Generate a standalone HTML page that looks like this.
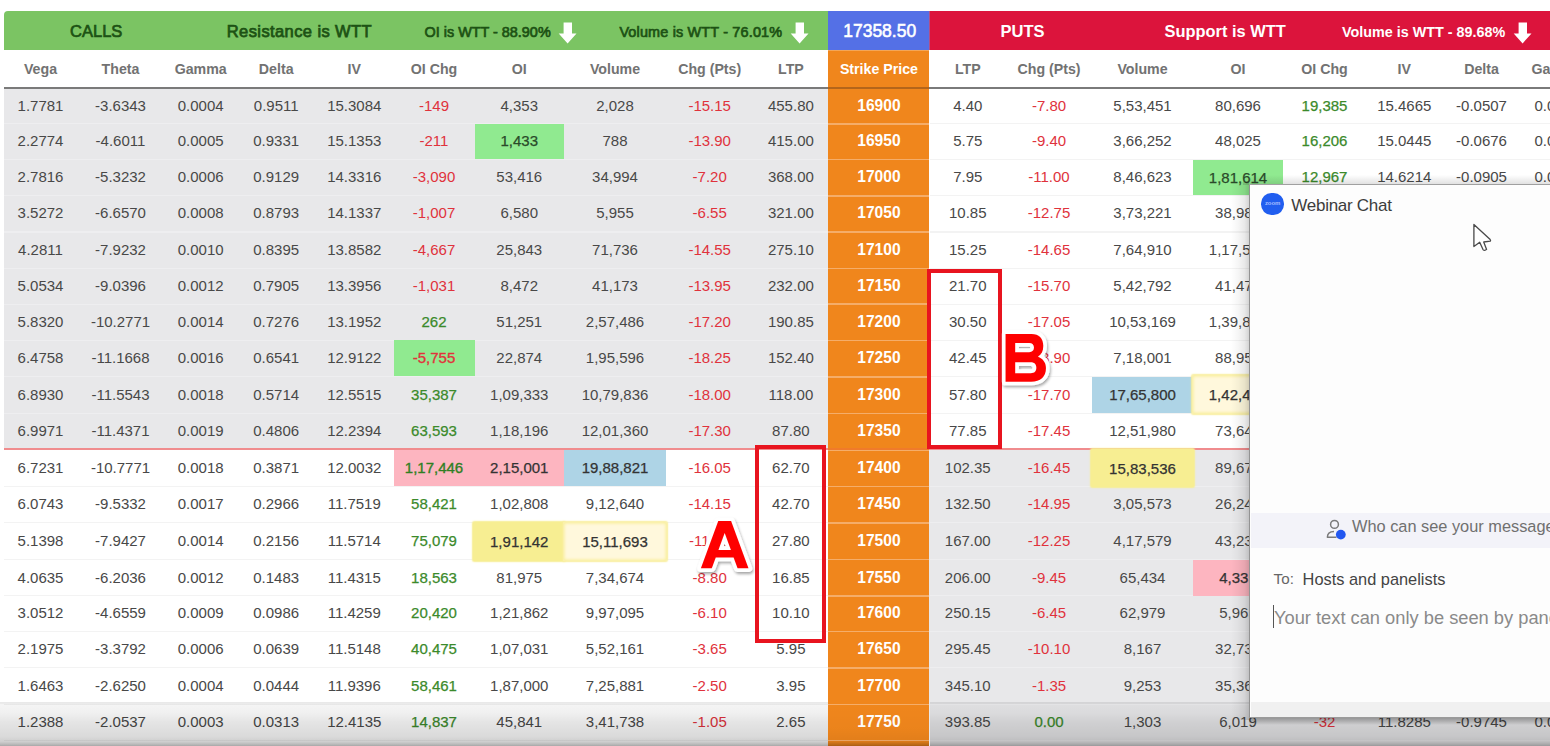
<!DOCTYPE html>
<html><head><meta charset="utf-8"><title>Option Chain</title>
<style>
html,body{margin:0;padding:0;}
body{width:1550px;height:746px;overflow:hidden;background:#fff;position:relative;font-family:"Liberation Sans",sans-serif;}
.abs{position:absolute;}
.c{position:absolute;text-align:center;white-space:nowrap;font-size:15px;color:#484848;line-height:34px;height:34px;}
.neg{color:#e0323c;}
.pos{color:#3b8a2b;-webkit-text-stroke:0.25px #3b8a2b;}
.hdr{position:absolute;text-align:center;white-space:nowrap;font-size:14.2px;font-weight:bold;color:#727272;line-height:38px;height:38px;top:49.5px;}
.sk{color:#fff;font-weight:bold;font-size:15.6px;}
.hg{background:#90ea90;color:#2a4a2a;-webkit-text-stroke:0.25px #2a4a2a;}
.hp{background:#fdb5c0;color:#333;-webkit-text-stroke:0.25px #333;}
.hb{background:#aed4e6;color:#333;-webkit-text-stroke:0.25px #333;}
.hy{border-radius:2px;box-shadow:0 0 1.5px 0.3px #f7ee92;background:#f7ee92;color:#333;-webkit-text-stroke:0.25px #333;}
.hly{border-radius:2px;background:#fff8dc;color:#333;-webkit-text-stroke:0.25px #333;box-shadow:inset 0 0 3px 1.5px #f9ee9c, 0 0 1.5px 0.3px #f9ee9c;}
.t{position:absolute;white-space:nowrap;}
</style></head><body>

<div class="abs" style="left:4px;top:88px;width:825px;height:361.95px;background:#e8e8ea;"></div>
<div class="abs" style="left:929px;top:449.95px;width:621px;height:320px;background:#e8e8ea;"></div>
<div class="abs" style="left:4px;top:123.25px;width:824.4px;height:1.2px;background:#eeeef0;"></div>
<div class="abs" style="left:929.5px;top:123.25px;width:620.5px;height:1.2px;background:#f3f3f3;"></div>
<div class="abs" style="left:4px;top:159.00px;width:824.4px;height:1.2px;background:#eeeef0;"></div>
<div class="abs" style="left:929.5px;top:159.00px;width:620.5px;height:1.2px;background:#f3f3f3;"></div>
<div class="abs" style="left:4px;top:195.05px;width:824.4px;height:1.2px;background:#eeeef0;"></div>
<div class="abs" style="left:929.5px;top:195.05px;width:620.5px;height:1.2px;background:#f3f3f3;"></div>
<div class="abs" style="left:4px;top:231.35px;width:824.4px;height:1.2px;background:#eeeef0;"></div>
<div class="abs" style="left:929.5px;top:231.35px;width:620.5px;height:1.2px;background:#f3f3f3;"></div>
<div class="abs" style="left:4px;top:267.60px;width:824.4px;height:1.2px;background:#eeeef0;"></div>
<div class="abs" style="left:929.5px;top:267.60px;width:620.5px;height:1.2px;background:#f3f3f3;"></div>
<div class="abs" style="left:4px;top:303.50px;width:824.4px;height:1.2px;background:#eeeef0;"></div>
<div class="abs" style="left:929.5px;top:303.50px;width:620.5px;height:1.2px;background:#f3f3f3;"></div>
<div class="abs" style="left:4px;top:339.60px;width:824.4px;height:1.2px;background:#eeeef0;"></div>
<div class="abs" style="left:929.5px;top:339.60px;width:620.5px;height:1.2px;background:#f3f3f3;"></div>
<div class="abs" style="left:4px;top:376.05px;width:824.4px;height:1.2px;background:#eeeef0;"></div>
<div class="abs" style="left:929.5px;top:376.05px;width:620.5px;height:1.2px;background:#f3f3f3;"></div>
<div class="abs" style="left:4px;top:412.75px;width:824.4px;height:1.2px;background:#eeeef0;"></div>
<div class="abs" style="left:929.5px;top:412.75px;width:620.5px;height:1.2px;background:#f3f3f3;"></div>
<div class="abs" style="left:4px;top:485.75px;width:824.4px;height:1.2px;background:#f3f3f3;"></div>
<div class="abs" style="left:929.5px;top:485.75px;width:620.5px;height:1.2px;background:#eeeef0;"></div>
<div class="abs" style="left:4px;top:522.20px;width:824.4px;height:1.2px;background:#f3f3f3;"></div>
<div class="abs" style="left:929.5px;top:522.20px;width:620.5px;height:1.2px;background:#eeeef0;"></div>
<div class="abs" style="left:4px;top:559.00px;width:824.4px;height:1.2px;background:#f3f3f3;"></div>
<div class="abs" style="left:929.5px;top:559.00px;width:620.5px;height:1.2px;background:#eeeef0;"></div>
<div class="abs" style="left:4px;top:595.30px;width:824.4px;height:1.2px;background:#f3f3f3;"></div>
<div class="abs" style="left:929.5px;top:595.30px;width:620.5px;height:1.2px;background:#eeeef0;"></div>
<div class="abs" style="left:4px;top:631.00px;width:824.4px;height:1.2px;background:#f3f3f3;"></div>
<div class="abs" style="left:929.5px;top:631.00px;width:620.5px;height:1.2px;background:#eeeef0;"></div>
<div class="abs" style="left:4px;top:667.30px;width:824.4px;height:1.2px;background:#f3f3f3;"></div>
<div class="abs" style="left:929.5px;top:667.30px;width:620.5px;height:1.2px;background:#eeeef0;"></div>
<div class="abs" style="left:4px;top:703.80px;width:824.4px;height:1.2px;background:#f3f3f3;"></div>
<div class="abs" style="left:929.5px;top:703.80px;width:620.5px;height:1.2px;background:#eeeef0;"></div>
<div class="abs" style="left:4px;top:740.00px;width:824.4px;height:1.2px;background:#f3f3f3;"></div>
<div class="abs" style="left:929.5px;top:740.00px;width:620.5px;height:1.2px;background:#eeeef0;"></div>
<div class="abs" style="left:4px;top:10.9px;width:824.4px;height:39.5px;background:#7bc463;border-top-left-radius:4px;"></div>
<div class="abs" style="left:828.2px;top:10.7px;width:101.3px;height:39.7px;background:#5470e6;"></div>
<div class="abs" style="left:930px;top:10.7px;width:620px;height:39.7px;background:#dc143c;"></div><div class="abs" style="left:929px;top:10.7px;width:1.2px;height:39.7px;background:#b0508a;"></div>
<div class="abs" style="left:828.4px;top:50.4px;width:101.1px;height:700px;background:#f4a657;"></div><div class="abs" style="left:828.4px;top:51.3px;width:101.1px;height:700px;background:#f0861c;"></div>
<div class="abs" style="left:4px;top:87.4px;width:1546px;height:1.7px;background:#7a7a7a;"></div>
<div class="abs" style="left:828.4px;top:87.4px;width:101.1px;height:1.7px;background:#b4651a;"></div>
<div class="abs" style="left:828.4px;top:123.15px;width:101.1px;height:1.6px;background:#f5ad69;"></div>
<div class="abs" style="left:828.4px;top:158.90px;width:101.1px;height:1.6px;background:#f5ad69;"></div>
<div class="abs" style="left:828.4px;top:194.95px;width:101.1px;height:1.6px;background:#f5ad69;"></div>
<div class="abs" style="left:828.4px;top:231.25px;width:101.1px;height:1.6px;background:#f5ad69;"></div>
<div class="abs" style="left:828.4px;top:267.50px;width:101.1px;height:1.6px;background:#f5ad69;"></div>
<div class="abs" style="left:828.4px;top:303.40px;width:101.1px;height:1.6px;background:#f5ad69;"></div>
<div class="abs" style="left:828.4px;top:339.50px;width:101.1px;height:1.6px;background:#f5ad69;"></div>
<div class="abs" style="left:828.4px;top:375.95px;width:101.1px;height:1.6px;background:#f5ad69;"></div>
<div class="abs" style="left:828.4px;top:412.65px;width:101.1px;height:1.6px;background:#f5ad69;"></div>
<div class="abs" style="left:828.4px;top:449.25px;width:101.1px;height:1.6px;background:#f5ad69;"></div>
<div class="abs" style="left:828.4px;top:485.65px;width:101.1px;height:1.6px;background:#f5ad69;"></div>
<div class="abs" style="left:828.4px;top:522.10px;width:101.1px;height:1.6px;background:#f5ad69;"></div>
<div class="abs" style="left:828.4px;top:558.90px;width:101.1px;height:1.6px;background:#f5ad69;"></div>
<div class="abs" style="left:828.4px;top:595.20px;width:101.1px;height:1.6px;background:#f5ad69;"></div>
<div class="abs" style="left:828.4px;top:630.90px;width:101.1px;height:1.6px;background:#f5ad69;"></div>
<div class="abs" style="left:828.4px;top:667.20px;width:101.1px;height:1.6px;background:#f5ad69;"></div>
<div class="abs" style="left:828.4px;top:703.70px;width:101.1px;height:1.6px;background:#f5ad69;"></div>
<div class="abs" style="left:828.4px;top:739.90px;width:101.1px;height:1.6px;background:#f5ad69;"></div>
<div class="t" style="left:70.1px;top:19px;line-height:24px;font-size:16.5px;color:#1d5214;-webkit-text-stroke:0.7px #1d5214;">CALLS</div>
<div class="t" style="left:226.8px;top:19.2px;line-height:24px;font-size:16.5px;color:#1d5214;-webkit-text-stroke:0.75px #1d5214;letter-spacing:0.4px;">Resistance is WTT</div>
<div class="t" style="left:424.6px;top:20.1px;line-height:24px;font-size:14.4px;color:#1d5214;-webkit-text-stroke:0.7px #1d5214;">OI is WTT - 88.90%</div>
<div class="t" style="left:619.4px;top:20.1px;line-height:24px;font-size:14.4px;color:#1d5214;-webkit-text-stroke:0.7px #1d5214;letter-spacing:0.18px;">Volume is WTT - 76.01%</div>
<div class="t" style="left:843.2px;top:18.8px;line-height:24px;font-size:17.5px;color:#fff;-webkit-text-stroke:0.55px #fff;">17358.50</div>
<div class="t" style="left:1000.5px;top:19px;line-height:24px;font-size:16.5px;color:#fff;font-weight:bold;">PUTS</div>
<div class="t" style="left:1164.6px;top:19px;line-height:24px;font-size:16.4px;color:#fff;font-weight:bold;">Support is WTT</div>
<div class="t" style="left:1342px;top:20px;line-height:24px;font-size:14.35px;color:#fff;font-weight:bold;">Volume is WTT - 89.68%</div>
<svg class="abs" style="left:558px;top:21.5px;" width="19" height="22" viewBox="0 0 19 22"><path d="M5.6 0.4h8.4v11h4.5L9.6 21.4 0.7 11.4h4.9z" fill="#fff"/></svg>
<svg class="abs" style="left:790.3px;top:21.5px;" width="19" height="22" viewBox="0 0 19 22"><path d="M5.6 0.4h8.4v11h4.5L9.6 21.4 0.7 11.4h4.9z" fill="#fff"/></svg>
<svg class="abs" style="left:1513.4px;top:21.5px;" width="19" height="22" viewBox="0 0 19 22"><path d="M5.6 0.4h8.4v11h4.5L9.6 21.4 0.7 11.4h4.9z" fill="#fff"/></svg>
<div class="hdr" style="left:4px;width:73.0px;">Vega</div>
<div class="hdr" style="left:77px;width:87.0px;">Theta</div>
<div class="hdr" style="left:164px;width:73.4px;">Gamma</div>
<div class="hdr" style="left:237.4px;width:77.6px;">Delta</div>
<div class="hdr" style="left:315px;width:78.5px;">IV</div>
<div class="hdr" style="left:393.5px;width:81.0px;">OI Chg</div>
<div class="hdr" style="left:474.5px;width:89.5px;">OI</div>
<div class="hdr" style="left:564px;width:102.0px;">Volume</div>
<div class="hdr" style="left:666px;width:87.4px;">Chg (Pts)</div>
<div class="hdr" style="left:753.4px;width:75.0px;">LTP</div>
<div class="hdr" style="left:828.4px;width:101.1px;color:#fff;font-weight:bold;-webkit-text-stroke:0;">Strike Price</div>
<div class="hdr" style="left:929.5px;width:76.5px;">LTP</div>
<div class="hdr" style="left:1006px;width:86.0px;">Chg (Pts)</div>
<div class="hdr" style="left:1092px;width:101.0px;">Volume</div>
<div class="hdr" style="left:1193px;width:90.0px;">OI</div>
<div class="hdr" style="left:1283px;width:83.0px;">OI Chg</div>
<div class="hdr" style="left:1366px;width:76.6px;">IV</div>
<div class="hdr" style="left:1442.6px;width:77.8px;">Delta</div>
<div class="hdr" style="left:1520.4px;width:74.2px;">Gamma</div>
<div class="c" style="left:4px;top:88.70px;width:73.0px;">1.7781</div>
<div class="c" style="left:77px;top:88.70px;width:87.0px;">-3.6343</div>
<div class="c" style="left:164px;top:88.70px;width:73.4px;">0.0004</div>
<div class="c" style="left:237.4px;top:88.70px;width:77.6px;">0.9511</div>
<div class="c" style="left:315px;top:88.70px;width:78.5px;">15.3084</div>
<div class="c neg" style="left:393.5px;top:88.70px;width:81.0px;">-149</div>
<div class="c" style="left:474.5px;top:88.70px;width:89.5px;">4,353</div>
<div class="c" style="left:564px;top:88.70px;width:102.0px;">2,028</div>
<div class="c neg" style="left:666px;top:88.70px;width:87.4px;">-15.15</div>
<div class="c" style="left:753.4px;top:88.70px;width:75.0px;">455.80</div>
<div class="c sk" style="left:828.4px;top:88.70px;width:101.1px;">16900</div>
<div class="c" style="left:929.5px;top:88.70px;width:76.5px;">4.40</div>
<div class="c neg" style="left:1006px;top:88.70px;width:86.0px;">-7.80</div>
<div class="c" style="left:1092px;top:88.70px;width:101.0px;">5,53,451</div>
<div class="c" style="left:1193px;top:88.70px;width:90.0px;">80,696</div>
<div class="c pos" style="left:1283px;top:88.70px;width:83.0px;">19,385</div>
<div class="c" style="left:1366px;top:88.70px;width:76.6px;">15.4665</div>
<div class="c" style="left:1442.6px;top:88.70px;width:77.8px;">-0.0507</div>
<div class="c" style="left:1520.4px;top:88.70px;width:74.2px;">0.0003</div>
<div class="c" style="left:4px;top:124.20px;width:73.0px;">2.2774</div>
<div class="c" style="left:77px;top:124.20px;width:87.0px;">-4.6011</div>
<div class="c" style="left:164px;top:124.20px;width:73.4px;">0.0005</div>
<div class="c" style="left:237.4px;top:124.20px;width:77.6px;">0.9331</div>
<div class="c" style="left:315px;top:124.20px;width:78.5px;">15.1353</div>
<div class="c neg" style="left:393.5px;top:124.20px;width:81.0px;">-211</div>
<div class="c hg" style="left:474.5px;top:123.85px;width:89.5px;height:35.55px;line-height:34.50px;">1,433</div>
<div class="c" style="left:564px;top:124.20px;width:102.0px;">788</div>
<div class="c neg" style="left:666px;top:124.20px;width:87.4px;">-13.90</div>
<div class="c" style="left:753.4px;top:124.20px;width:75.0px;">415.00</div>
<div class="c sk" style="left:828.4px;top:124.20px;width:101.1px;">16950</div>
<div class="c" style="left:929.5px;top:124.20px;width:76.5px;">5.75</div>
<div class="c neg" style="left:1006px;top:124.20px;width:86.0px;">-9.40</div>
<div class="c" style="left:1092px;top:124.20px;width:101.0px;">3,66,252</div>
<div class="c" style="left:1193px;top:124.20px;width:90.0px;">48,025</div>
<div class="c pos" style="left:1283px;top:124.20px;width:83.0px;">16,206</div>
<div class="c" style="left:1366px;top:124.20px;width:76.6px;">15.0445</div>
<div class="c" style="left:1442.6px;top:124.20px;width:77.8px;">-0.0676</div>
<div class="c" style="left:1520.4px;top:124.20px;width:74.2px;">0.0004</div>
<div class="c" style="left:4px;top:160.20px;width:73.0px;">2.7816</div>
<div class="c" style="left:77px;top:160.20px;width:87.0px;">-5.3232</div>
<div class="c" style="left:164px;top:160.20px;width:73.4px;">0.0006</div>
<div class="c" style="left:237.4px;top:160.20px;width:77.6px;">0.9129</div>
<div class="c" style="left:315px;top:160.20px;width:78.5px;">14.3316</div>
<div class="c neg" style="left:393.5px;top:160.20px;width:81.0px;">-3,090</div>
<div class="c" style="left:474.5px;top:160.20px;width:89.5px;">53,416</div>
<div class="c" style="left:564px;top:160.20px;width:102.0px;">34,994</div>
<div class="c neg" style="left:666px;top:160.20px;width:87.4px;">-7.20</div>
<div class="c" style="left:753.4px;top:160.20px;width:75.0px;">368.00</div>
<div class="c sk" style="left:828.4px;top:160.20px;width:101.1px;">17000</div>
<div class="c" style="left:929.5px;top:160.20px;width:76.5px;">7.95</div>
<div class="c neg" style="left:1006px;top:160.20px;width:86.0px;">-11.00</div>
<div class="c" style="left:1092px;top:160.20px;width:101.0px;">8,46,623</div>
<div class="c hg" style="left:1193px;top:159.60px;width:90.0px;height:35.85px;line-height:35.00px;">1,81,614</div>
<div class="c pos" style="left:1283px;top:160.20px;width:83.0px;">12,967</div>
<div class="c" style="left:1366px;top:160.20px;width:76.6px;">14.6214</div>
<div class="c" style="left:1442.6px;top:160.20px;width:77.8px;">-0.0905</div>
<div class="c" style="left:1520.4px;top:160.20px;width:74.2px;">0.0005</div>
<div class="c" style="left:4px;top:196.30px;width:73.0px;">3.5272</div>
<div class="c" style="left:77px;top:196.30px;width:87.0px;">-6.6570</div>
<div class="c" style="left:164px;top:196.30px;width:73.4px;">0.0008</div>
<div class="c" style="left:237.4px;top:196.30px;width:77.6px;">0.8793</div>
<div class="c" style="left:315px;top:196.30px;width:78.5px;">14.1337</div>
<div class="c neg" style="left:393.5px;top:196.30px;width:81.0px;">-1,007</div>
<div class="c" style="left:474.5px;top:196.30px;width:89.5px;">6,580</div>
<div class="c" style="left:564px;top:196.30px;width:102.0px;">5,955</div>
<div class="c neg" style="left:666px;top:196.30px;width:87.4px;">-6.55</div>
<div class="c" style="left:753.4px;top:196.30px;width:75.0px;">321.00</div>
<div class="c sk" style="left:828.4px;top:196.30px;width:101.1px;">17050</div>
<div class="c" style="left:929.5px;top:196.30px;width:76.5px;">10.85</div>
<div class="c neg" style="left:1006px;top:196.30px;width:86.0px;">-12.75</div>
<div class="c" style="left:1092px;top:196.30px;width:101.0px;">3,73,221</div>
<div class="c" style="left:1193px;top:196.30px;width:90.0px;">38,985</div>
<div class="c" style="left:4px;top:232.80px;width:73.0px;">4.2811</div>
<div class="c" style="left:77px;top:232.80px;width:87.0px;">-7.9232</div>
<div class="c" style="left:164px;top:232.80px;width:73.4px;">0.0010</div>
<div class="c" style="left:237.4px;top:232.80px;width:77.6px;">0.8395</div>
<div class="c" style="left:315px;top:232.80px;width:78.5px;">13.8582</div>
<div class="c neg" style="left:393.5px;top:232.80px;width:81.0px;">-4,667</div>
<div class="c" style="left:474.5px;top:232.80px;width:89.5px;">25,843</div>
<div class="c" style="left:564px;top:232.80px;width:102.0px;">71,736</div>
<div class="c neg" style="left:666px;top:232.80px;width:87.4px;">-14.55</div>
<div class="c" style="left:753.4px;top:232.80px;width:75.0px;">275.10</div>
<div class="c sk" style="left:828.4px;top:232.80px;width:101.1px;">17100</div>
<div class="c" style="left:929.5px;top:232.80px;width:76.5px;">15.25</div>
<div class="c neg" style="left:1006px;top:232.80px;width:86.0px;">-14.65</div>
<div class="c" style="left:1092px;top:232.80px;width:101.0px;">7,64,910</div>
<div class="c" style="left:1193px;top:232.80px;width:90.0px;">1,17,523</div>
<div class="c" style="left:4px;top:268.80px;width:73.0px;">5.0534</div>
<div class="c" style="left:77px;top:268.80px;width:87.0px;">-9.0396</div>
<div class="c" style="left:164px;top:268.80px;width:73.4px;">0.0012</div>
<div class="c" style="left:237.4px;top:268.80px;width:77.6px;">0.7905</div>
<div class="c" style="left:315px;top:268.80px;width:78.5px;">13.3956</div>
<div class="c neg" style="left:393.5px;top:268.80px;width:81.0px;">-1,031</div>
<div class="c" style="left:474.5px;top:268.80px;width:89.5px;">8,472</div>
<div class="c" style="left:564px;top:268.80px;width:102.0px;">41,173</div>
<div class="c neg" style="left:666px;top:268.80px;width:87.4px;">-13.95</div>
<div class="c" style="left:753.4px;top:268.80px;width:75.0px;">232.00</div>
<div class="c sk" style="left:828.4px;top:268.80px;width:101.1px;">17150</div>
<div class="c" style="left:929.5px;top:268.80px;width:76.5px;">21.70</div>
<div class="c neg" style="left:1006px;top:268.80px;width:86.0px;">-15.70</div>
<div class="c" style="left:1092px;top:268.80px;width:101.0px;">5,42,792</div>
<div class="c" style="left:1193px;top:268.80px;width:90.0px;">41,473</div>
<div class="c" style="left:4px;top:304.60px;width:73.0px;">5.8320</div>
<div class="c" style="left:77px;top:304.60px;width:87.0px;">-10.2771</div>
<div class="c" style="left:164px;top:304.60px;width:73.4px;">0.0014</div>
<div class="c" style="left:237.4px;top:304.60px;width:77.6px;">0.7276</div>
<div class="c" style="left:315px;top:304.60px;width:78.5px;">13.1952</div>
<div class="c pos" style="left:393.5px;top:304.60px;width:81.0px;">262</div>
<div class="c" style="left:474.5px;top:304.60px;width:89.5px;">51,251</div>
<div class="c" style="left:564px;top:304.60px;width:102.0px;">2,57,486</div>
<div class="c neg" style="left:666px;top:304.60px;width:87.4px;">-17.20</div>
<div class="c" style="left:753.4px;top:304.60px;width:75.0px;">190.85</div>
<div class="c sk" style="left:828.4px;top:304.60px;width:101.1px;">17200</div>
<div class="c" style="left:929.5px;top:304.60px;width:76.5px;">30.50</div>
<div class="c neg" style="left:1006px;top:304.60px;width:86.0px;">-17.05</div>
<div class="c" style="left:1092px;top:304.60px;width:101.0px;">10,53,169</div>
<div class="c" style="left:1193px;top:304.60px;width:90.0px;">1,39,812</div>
<div class="c" style="left:4px;top:341.00px;width:73.0px;">6.4758</div>
<div class="c" style="left:77px;top:341.00px;width:87.0px;">-11.1668</div>
<div class="c" style="left:164px;top:341.00px;width:73.4px;">0.0016</div>
<div class="c" style="left:237.4px;top:341.00px;width:77.6px;">0.6541</div>
<div class="c" style="left:315px;top:341.00px;width:78.5px;">12.9122</div>
<div class="c neg hg" style="left:393.5px;top:340.20px;width:81.0px;height:36.25px;line-height:35.40px;color:#e0323c;-webkit-text-stroke:0.35px #e0323c;">-5,755</div>
<div class="c" style="left:474.5px;top:341.00px;width:89.5px;">22,874</div>
<div class="c" style="left:564px;top:341.00px;width:102.0px;">1,95,596</div>
<div class="c neg" style="left:666px;top:341.00px;width:87.4px;">-18.25</div>
<div class="c" style="left:753.4px;top:341.00px;width:75.0px;">152.40</div>
<div class="c sk" style="left:828.4px;top:341.00px;width:101.1px;">17250</div>
<div class="c" style="left:929.5px;top:341.00px;width:76.5px;">42.45</div>
<div class="c neg" style="left:1006px;top:341.00px;width:86.0px;">-18.90</div>
<div class="c" style="left:1092px;top:341.00px;width:101.0px;">7,18,001</div>
<div class="c" style="left:1193px;top:341.00px;width:90.0px;">88,953</div>
<div class="c" style="left:4px;top:377.50px;width:73.0px;">6.8930</div>
<div class="c" style="left:77px;top:377.50px;width:87.0px;">-11.5543</div>
<div class="c" style="left:164px;top:377.50px;width:73.4px;">0.0018</div>
<div class="c" style="left:237.4px;top:377.50px;width:77.6px;">0.5714</div>
<div class="c" style="left:315px;top:377.50px;width:78.5px;">12.5515</div>
<div class="c pos" style="left:393.5px;top:377.50px;width:81.0px;">35,387</div>
<div class="c" style="left:474.5px;top:377.50px;width:89.5px;">1,09,333</div>
<div class="c" style="left:564px;top:377.50px;width:102.0px;">10,79,836</div>
<div class="c neg" style="left:666px;top:377.50px;width:87.4px;">-18.00</div>
<div class="c" style="left:753.4px;top:377.50px;width:75.0px;">118.00</div>
<div class="c sk" style="left:828.4px;top:377.50px;width:101.1px;">17300</div>
<div class="c" style="left:929.5px;top:377.50px;width:76.5px;">57.80</div>
<div class="c neg" style="left:1006px;top:377.50px;width:86.0px;">-17.70</div>
<div class="c hb" style="left:1092px;top:376.65px;width:101.0px;height:36.50px;line-height:35.50px;">17,65,800</div>
<div class="c" style="left:4px;top:414.40px;width:73.0px;">6.9971</div>
<div class="c" style="left:77px;top:414.40px;width:87.0px;">-11.4371</div>
<div class="c" style="left:164px;top:414.40px;width:73.4px;">0.0019</div>
<div class="c" style="left:237.4px;top:414.40px;width:77.6px;">0.4806</div>
<div class="c" style="left:315px;top:414.40px;width:78.5px;">12.2394</div>
<div class="c pos" style="left:393.5px;top:414.40px;width:81.0px;">63,593</div>
<div class="c" style="left:474.5px;top:414.40px;width:89.5px;">1,18,196</div>
<div class="c" style="left:564px;top:414.40px;width:102.0px;">12,01,360</div>
<div class="c neg" style="left:666px;top:414.40px;width:87.4px;">-17.30</div>
<div class="c" style="left:753.4px;top:414.40px;width:75.0px;">87.80</div>
<div class="c sk" style="left:828.4px;top:414.40px;width:101.1px;">17350</div>
<div class="c" style="left:929.5px;top:414.40px;width:76.5px;">77.85</div>
<div class="c neg" style="left:1006px;top:414.40px;width:86.0px;">-17.45</div>
<div class="c" style="left:1092px;top:414.40px;width:101.0px;">12,51,980</div>
<div class="c" style="left:1193px;top:414.40px;width:90.0px;">73,645</div>
<div class="c" style="left:4px;top:450.70px;width:73.0px;">6.7231</div>
<div class="c" style="left:77px;top:450.70px;width:87.0px;">-10.7771</div>
<div class="c" style="left:164px;top:450.70px;width:73.4px;">0.0018</div>
<div class="c" style="left:237.4px;top:450.70px;width:77.6px;">0.3871</div>
<div class="c" style="left:315px;top:450.70px;width:78.5px;">12.0032</div>
<div class="c pos hp" style="left:393.5px;top:449.95px;width:81.0px;height:36.20px;line-height:35.30px;color:#2f7f22;-webkit-text-stroke:0.35px #2f7f22;">1,17,446</div>
<div class="c hp" style="left:474.5px;top:449.95px;width:89.5px;height:36.20px;line-height:35.30px;">2,15,001</div>
<div class="c hb" style="left:564px;top:449.95px;width:102.0px;height:36.20px;line-height:35.30px;">19,88,821</div>
<div class="c neg" style="left:666px;top:450.70px;width:87.4px;">-16.05</div>
<div class="c" style="left:753.4px;top:450.70px;width:75.0px;">62.70</div>
<div class="c sk" style="left:828.4px;top:450.70px;width:101.1px;">17400</div>
<div class="c" style="left:929.5px;top:450.70px;width:76.5px;">102.35</div>
<div class="c neg" style="left:1006px;top:450.70px;width:86.0px;">-16.45</div>
<div class="c" style="left:1193px;top:450.70px;width:90.0px;">89,673</div>
<div class="c" style="left:4px;top:487.20px;width:73.0px;">6.0743</div>
<div class="c" style="left:77px;top:487.20px;width:87.0px;">-9.5332</div>
<div class="c" style="left:164px;top:487.20px;width:73.4px;">0.0017</div>
<div class="c" style="left:237.4px;top:487.20px;width:77.6px;">0.2966</div>
<div class="c" style="left:315px;top:487.20px;width:78.5px;">11.7519</div>
<div class="c pos" style="left:393.5px;top:487.20px;width:81.0px;">58,421</div>
<div class="c" style="left:474.5px;top:487.20px;width:89.5px;">1,02,808</div>
<div class="c" style="left:564px;top:487.20px;width:102.0px;">9,12,640</div>
<div class="c neg" style="left:666px;top:487.20px;width:87.4px;">-14.15</div>
<div class="c" style="left:753.4px;top:487.20px;width:75.0px;">42.70</div>
<div class="c sk" style="left:828.4px;top:487.20px;width:101.1px;">17450</div>
<div class="c" style="left:929.5px;top:487.20px;width:76.5px;">132.50</div>
<div class="c neg" style="left:1006px;top:487.20px;width:86.0px;">-14.95</div>
<div class="c" style="left:1092px;top:487.20px;width:101.0px;">3,05,573</div>
<div class="c" style="left:1193px;top:487.20px;width:90.0px;">26,245</div>
<div class="c" style="left:4px;top:523.60px;width:73.0px;">5.1398</div>
<div class="c" style="left:77px;top:523.60px;width:87.0px;">-7.9427</div>
<div class="c" style="left:164px;top:523.60px;width:73.4px;">0.0014</div>
<div class="c" style="left:237.4px;top:523.60px;width:77.6px;">0.2156</div>
<div class="c" style="left:315px;top:523.60px;width:78.5px;">11.5714</div>
<div class="c pos" style="left:393.5px;top:523.60px;width:81.0px;">75,079</div>
<div class="c neg" style="left:666px;top:523.60px;width:87.4px;">-11.45</div>
<div class="c" style="left:753.4px;top:523.60px;width:75.0px;">27.80</div>
<div class="c sk" style="left:828.4px;top:523.60px;width:101.1px;">17500</div>
<div class="c" style="left:929.5px;top:523.60px;width:76.5px;">167.00</div>
<div class="c neg" style="left:1006px;top:523.60px;width:86.0px;">-12.25</div>
<div class="c" style="left:1092px;top:523.60px;width:101.0px;">4,17,579</div>
<div class="c" style="left:1193px;top:523.60px;width:90.0px;">43,233</div>
<div class="c" style="left:4px;top:560.80px;width:73.0px;">4.0635</div>
<div class="c" style="left:77px;top:560.80px;width:87.0px;">-6.2036</div>
<div class="c" style="left:164px;top:560.80px;width:73.4px;">0.0012</div>
<div class="c" style="left:237.4px;top:560.80px;width:77.6px;">0.1483</div>
<div class="c" style="left:315px;top:560.80px;width:78.5px;">11.4315</div>
<div class="c pos" style="left:393.5px;top:560.80px;width:81.0px;">18,563</div>
<div class="c" style="left:474.5px;top:560.80px;width:89.5px;">81,975</div>
<div class="c" style="left:564px;top:560.80px;width:102.0px;">7,34,674</div>
<div class="c neg" style="left:666px;top:560.80px;width:87.4px;">-8.80</div>
<div class="c" style="left:753.4px;top:560.80px;width:75.0px;">16.85</div>
<div class="c sk" style="left:828.4px;top:560.80px;width:101.1px;">17550</div>
<div class="c" style="left:929.5px;top:560.80px;width:76.5px;">206.00</div>
<div class="c neg" style="left:1006px;top:560.80px;width:86.0px;">-9.45</div>
<div class="c" style="left:1092px;top:560.80px;width:101.0px;">65,434</div>
<div class="c hp" style="left:1193px;top:559.60px;width:90.0px;height:36.10px;line-height:36.20px;">4,335</div>
<div class="c" style="left:4px;top:596.20px;width:73.0px;">3.0512</div>
<div class="c" style="left:77px;top:596.20px;width:87.0px;">-4.6559</div>
<div class="c" style="left:164px;top:596.20px;width:73.4px;">0.0009</div>
<div class="c" style="left:237.4px;top:596.20px;width:77.6px;">0.0986</div>
<div class="c" style="left:315px;top:596.20px;width:78.5px;">11.4259</div>
<div class="c pos" style="left:393.5px;top:596.20px;width:81.0px;">20,420</div>
<div class="c" style="left:474.5px;top:596.20px;width:89.5px;">1,21,862</div>
<div class="c" style="left:564px;top:596.20px;width:102.0px;">9,97,095</div>
<div class="c neg" style="left:666px;top:596.20px;width:87.4px;">-6.10</div>
<div class="c" style="left:753.4px;top:596.20px;width:75.0px;">10.10</div>
<div class="c sk" style="left:828.4px;top:596.20px;width:101.1px;">17600</div>
<div class="c" style="left:929.5px;top:596.20px;width:76.5px;">250.15</div>
<div class="c neg" style="left:1006px;top:596.20px;width:86.0px;">-6.45</div>
<div class="c" style="left:1092px;top:596.20px;width:101.0px;">62,979</div>
<div class="c" style="left:1193px;top:596.20px;width:90.0px;">5,963</div>
<div class="c" style="left:4px;top:632.20px;width:73.0px;">2.1975</div>
<div class="c" style="left:77px;top:632.20px;width:87.0px;">-3.3792</div>
<div class="c" style="left:164px;top:632.20px;width:73.4px;">0.0006</div>
<div class="c" style="left:237.4px;top:632.20px;width:77.6px;">0.0639</div>
<div class="c" style="left:315px;top:632.20px;width:78.5px;">11.5148</div>
<div class="c pos" style="left:393.5px;top:632.20px;width:81.0px;">40,475</div>
<div class="c" style="left:474.5px;top:632.20px;width:89.5px;">1,07,031</div>
<div class="c" style="left:564px;top:632.20px;width:102.0px;">5,52,161</div>
<div class="c neg" style="left:666px;top:632.20px;width:87.4px;">-3.65</div>
<div class="c" style="left:753.4px;top:632.20px;width:75.0px;">5.95</div>
<div class="c sk" style="left:828.4px;top:632.20px;width:101.1px;">17650</div>
<div class="c" style="left:929.5px;top:632.20px;width:76.5px;">295.45</div>
<div class="c neg" style="left:1006px;top:632.20px;width:86.0px;">-10.10</div>
<div class="c" style="left:1092px;top:632.20px;width:101.0px;">8,167</div>
<div class="c" style="left:1193px;top:632.20px;width:90.0px;">32,733</div>
<div class="c" style="left:4px;top:668.80px;width:73.0px;">1.6463</div>
<div class="c" style="left:77px;top:668.80px;width:87.0px;">-2.6250</div>
<div class="c" style="left:164px;top:668.80px;width:73.4px;">0.0004</div>
<div class="c" style="left:237.4px;top:668.80px;width:77.6px;">0.0444</div>
<div class="c" style="left:315px;top:668.80px;width:78.5px;">11.9396</div>
<div class="c pos" style="left:393.5px;top:668.80px;width:81.0px;">58,461</div>
<div class="c" style="left:474.5px;top:668.80px;width:89.5px;">1,87,000</div>
<div class="c" style="left:564px;top:668.80px;width:102.0px;">7,25,881</div>
<div class="c neg" style="left:666px;top:668.80px;width:87.4px;">-2.50</div>
<div class="c" style="left:753.4px;top:668.80px;width:75.0px;">3.95</div>
<div class="c sk" style="left:828.4px;top:668.80px;width:101.1px;">17700</div>
<div class="c" style="left:929.5px;top:668.80px;width:76.5px;">345.10</div>
<div class="c neg" style="left:1006px;top:668.80px;width:86.0px;">-1.35</div>
<div class="c" style="left:1092px;top:668.80px;width:101.0px;">9,253</div>
<div class="c" style="left:1193px;top:668.80px;width:90.0px;">35,363</div>
<div class="c" style="left:4px;top:705.20px;width:73.0px;">1.2388</div>
<div class="c" style="left:77px;top:705.20px;width:87.0px;">-2.0537</div>
<div class="c" style="left:164px;top:705.20px;width:73.4px;">0.0003</div>
<div class="c" style="left:237.4px;top:705.20px;width:77.6px;">0.0313</div>
<div class="c" style="left:315px;top:705.20px;width:78.5px;">12.4135</div>
<div class="c pos" style="left:393.5px;top:705.20px;width:81.0px;">14,837</div>
<div class="c" style="left:474.5px;top:705.20px;width:89.5px;">45,841</div>
<div class="c" style="left:564px;top:705.20px;width:102.0px;">3,41,738</div>
<div class="c neg" style="left:666px;top:705.20px;width:87.4px;">-1.05</div>
<div class="c" style="left:753.4px;top:705.20px;width:75.0px;">2.65</div>
<div class="c sk" style="left:828.4px;top:705.20px;width:101.1px;">17750</div>
<div class="c" style="left:929.5px;top:705.20px;width:76.5px;">393.85</div>
<div class="c pos" style="left:1006px;top:705.20px;width:86.0px;">0.00</div>
<div class="c" style="left:1092px;top:705.20px;width:101.0px;">1,303</div>
<div class="c" style="left:1193px;top:705.20px;width:90.0px;">6,019</div>
<div class="c neg" style="left:1283px;top:705.20px;width:83.0px;">-32</div>
<div class="c" style="left:1366px;top:705.20px;width:76.6px;">11.8285</div>
<div class="c" style="left:1442.6px;top:705.20px;width:77.8px;">-0.9745</div>
<div class="c" style="left:1520.4px;top:705.20px;width:74.2px;">0.0310</div>
<div class="abs" style="left:4px;top:448.3px;width:824.6px;height:1.7px;background:#f08c8e;"></div>
<div class="abs" style="left:929px;top:448.3px;width:621px;height:1.7px;background:#f08c8e;"></div>
<div class="abs" style="left:828.4px;top:448.3px;width:101.1px;height:1.7px;background:#f07a2a;"></div>
<div class="c hly" style="left:1191.7px;top:375.35px;width:92.6px;height:39.10px;line-height:40.50px;">1,42,463</div>
<div class="c hy" style="left:1090.7px;top:448.65px;width:103.6px;height:38.80px;line-height:40.30px;">15,83,536</div>
<div class="c hy" style="left:473.2px;top:521.50px;width:92.1px;height:39.20px;line-height:40.40px;">1,91,142</div>
<div class="c hly" style="left:562.7px;top:521.50px;width:104.6px;height:39.20px;line-height:40.40px;">15,11,693</div>
<div class="abs" style="left:0;top:702.2px;width:828.4px;height:43.8px;background:linear-gradient(to bottom,rgba(0,0,0,0.085) 0%,rgba(0,0,0,0.085) 3%,rgba(0,0,0,0.045) 6%,rgba(0,0,0,0.06) 25%,rgba(0,0,0,0.10) 45%,rgba(0,0,0,0.145) 78%,rgba(0,0,0,0.19) 90%,rgba(0,0,0,0.27) 96%,rgba(0,0,0,0.34) 100%);"></div>
<div class="abs" style="left:929.5px;top:702.2px;width:620.5px;height:43.8px;background:linear-gradient(to bottom,rgba(0,0,0,0.085) 0%,rgba(0,0,0,0.085) 3%,rgba(0,0,0,0.045) 6%,rgba(0,0,0,0.06) 25%,rgba(0,0,0,0.10) 45%,rgba(0,0,0,0.145) 78%,rgba(0,0,0,0.19) 90%,rgba(0,0,0,0.27) 96%,rgba(0,0,0,0.34) 100%);"></div>
<div class="abs" style="left:828.4px;top:702.2px;width:101.1px;height:43.8px;background:linear-gradient(to bottom,rgba(0,0,0,0) 0%,rgba(0,0,0,0.02) 60%,rgba(0,0,0,0.06) 88%,rgba(0,0,0,0.2) 96%,rgba(0,0,0,0.3) 100%);"></div>
<div class="abs" style="left:1231px;top:182px;width:18px;height:538px;background:linear-gradient(to right,rgba(0,0,0,0) 0%,rgba(0,0,0,0.035) 40%,rgba(0,0,0,0.085) 75%,rgba(0,0,0,0.17) 100%);"></div>
<div class="abs" style="left:1243px;top:175px;width:307px;height:10px;background:linear-gradient(to bottom,rgba(0,0,0,0),rgba(0,0,0,0.13));"></div>
<div class="abs" style="left:1249px;top:718px;width:301px;height:7px;background:linear-gradient(to bottom,rgba(0,0,0,0.3),rgba(0,0,0,0));"></div>
<div class="abs" style="left:1249px;top:184px;width:301px;height:534px;background:#fdfdfd;border-left:1.8px solid #939393;border-top:1.5px solid #a0a0a0;box-sizing:border-box;"></div>
<div class="abs" style="left:1251px;top:513px;width:299px;height:34.5px;background:#f3f3f9;"></div>
<div class="abs" style="left:1251px;top:702.4px;width:299px;height:15.4px;background:#f0f0f0;"></div>
<div class="abs" style="left:1249px;top:717.2px;width:301px;height:1.2px;background:#9a9a9a;"></div>
<div class="abs" style="left:1261.3px;top:193px;width:22.6px;height:22.3px;background:#215eef;border-radius:10.4px;"></div>
<div class="abs" style="left:1261.3px;top:199.2px;width:22.6px;height:9px;line-height:9px;text-align:center;font-size:6px;font-weight:bold;color:#a4bcff;letter-spacing:-0.1px;">zoom</div>

<div class="t" style="left:1291.3px;top:193.8px;line-height:24px;font-size:17px;color:#3c3c3c;letter-spacing:-0.27px;">Webinar Chat</div>
<div class="t" style="left:1352px;top:513.6px;line-height:24px;font-size:16.35px;color:#707070;">Who can see your messages?</div>
<div class="t" style="left:1273.6px;top:567.4px;line-height:24px;font-size:15.2px;color:#666;">To:</div>
<div class="t" style="left:1302.6px;top:567.4px;line-height:24px;font-size:16.36px;color:#444;">Hosts and panelists</div>
<div class="t" style="left:1274px;top:606.4px;line-height:24px;font-size:18.3px;color:#8a8a8a;">Your text can only be seen by panelists</div>
<div class="abs" style="left:1272.6px;top:605px;width:1.4px;height:23px;background:#555;"></div>
<svg class="abs" style="left:1320px;top:515px;" width="30" height="30" viewBox="1320 515 30 30">
<circle cx="1334.5" cy="524.4" r="3.9" fill="none" stroke="#7a7a7a" stroke-width="1.5"/>
<path d="M1336.5 537.2H1327.4C1327.4 533.6 1330 531.7 1334 531.6" fill="none" stroke="#7a7a7a" stroke-width="1.5" stroke-linejoin="round"/>
<circle cx="1340.8" cy="534.6" r="4.9" fill="#2257f0"/></svg>
<svg class="abs" style="left:1465px;top:215px;" width="35" height="45" viewBox="1465 215 35 45">
<path d="M1473.9 224.4V246.6L1479.7 242.3L1483 249.6Q1484.6 251.3 1486.6 249.4L1483.7 242L1490.3 241.2Q1490.9 240.3 1490.2 239.6Z" fill="#fff" stroke="#4a4a4a" stroke-width="1.3" stroke-linejoin="round"/></svg>
<div class="abs" style="left:755.4px;top:445.3px;width:70.8px;height:198.2px;border:4.2px solid #e8141f;box-sizing:border-box;"></div>
<div class="abs" style="left:927.3px;top:269.2px;width:74.4px;height:179.6px;border:4px solid #e8141f;box-sizing:border-box;"></div>
<svg class="abs" style="left:0;top:0;overflow:visible" width="1550" height="746" viewBox="0 0 1550 746">
<defs><filter id="lsh" x="-30%" y="-30%" width="170%" height="170%"><feGaussianBlur in="SourceAlpha" stdDeviation="1.7"/><feOffset dx="1.3" dy="1.7"/><feComponentTransfer><feFuncA type="linear" slope="0.36"/></feComponentTransfer><feMerge><feMergeNode/><feMergeNode in="SourceGraphic"/></feMerge></filter></defs>
<g filter="url(#lsh)" fill="#fe0606" fill-rule="evenodd" stroke="#fff" stroke-width="7.4" stroke-linejoin="round" paint-order="stroke">
<path d="M 718.24 521.09 L 731.11 521.09 L 748.49 568.27 L 737.55 568.27 L 733.58 557.55 L 715.78 557.55 L 711.81 568.27 L 700.87 568.27 Z M 724.68 533.10 L 730.90 550.04 L 718.46 550.04 Z"/>
<path d="M 1005.55 333.94 L 1031.82 333.94 C 1038.79 333.94 1043.30 338.23 1043.30 345.74 C 1043.30 351.10 1041.47 354.53 1037.94 356.68 C 1042.76 358.28 1045.98 362.36 1045.98 367.94 C 1045.98 376.84 1040.40 381.66 1031.29 381.66 L 1005.55 381.66 Z M 1015.20 343.06 L 1029.14 343.06 C 1032.36 343.06 1033.97 344.88 1033.97 347.56 C 1033.97 350.35 1032.36 352.17 1029.14 352.17 L 1015.20 352.17 Z M 1015.20 362.36 L 1030.75 362.36 C 1034.50 362.36 1036.33 364.50 1036.33 367.83 C 1036.33 371.26 1034.50 373.30 1030.75 373.30 L 1015.20 373.30 Z"/>
</g></svg>
</body></html>
